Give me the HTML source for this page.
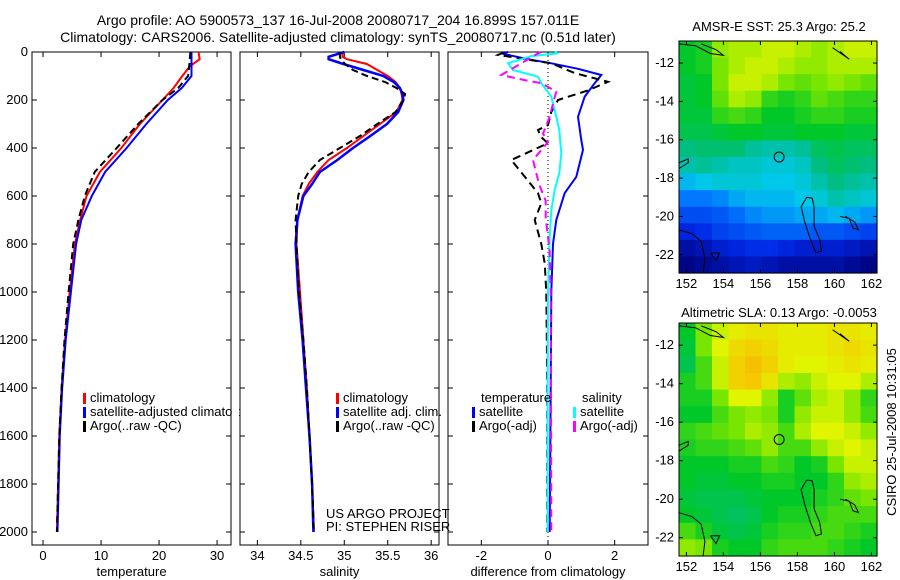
<!DOCTYPE html>
<html><head><meta charset="utf-8"><style>
body{margin:0;background:#fff}
svg{display:block;font-family:"Liberation Sans",sans-serif;font-size:13px}
</style></head><body>
<svg id="fig" width="900" height="580" viewBox="0 0 900 580">
<text x="338" y="25" text-anchor="middle" font-size="14">Argo profile: AO 5900573_137 16-Jul-2008 20080717_204 16.899S 157.011E</text>
<text x="338" y="42" text-anchor="middle" font-size="14">Climatology: CARS2006. Satellite-adjusted climatology: synTS_20080717.nc (0.51d later)</text>
<g id="g"></g>
<text x="779" y="31" text-anchor="middle">AMSR-E SST: 25.3 Argo: 25.2</text>
<text x="779" y="317" text-anchor="middle">Altimetric SLA: 0.13 Argo: -0.0053</text>
<text transform="translate(896,432) rotate(-90)" text-anchor="middle">CSIRO 25-Jul-2008 10:31:05</text>
<text x="326" y="518">US ARGO PROJECT</text>
<text x="326" y="531">PI: STEPHEN RISER</text>
</svg>
<script>
// ---- data ----
const depthClim = [0,30,60,100,150,200,300,400,500,600,700,800,1000,1200,1400,1600,1800,2000];
const tempClim  = [26.8,27,25.3,24,22.5,20.6,16.7,13.5,9.8,7.5,6.4,5.5,4.6,3.8,3.2,2.8,2.6,2.4];
const tempSat   = [25.6,25.6,25.6,25.6,23.9,21.5,17.8,14.4,10.7,8.4,6.6,5.7,4.8,3.9,3.3,2.9,2.7,2.5];
const tempArgo  = [25.4,25.3,25.2,25.0,23.3,20.6,16.4,12.7,8.9,7.2,6.1,5.2,4.4,3.7,3.2,2.8,2.6,2.4];
const depthSal  = [0,20,30,50,75,100,125,150,175,200,250,300,350,400,450,500,550,600,700,800,1000,1200,1400,1600,1800,2000];
const salClim   = [34.98,34.98,35.03,35.26,35.38,35.5,35.59,35.64,35.66,35.67,35.6,35.41,35.22,35.03,34.82,34.69,34.59,34.52,34.46,34.45,34.49,34.53,34.57,34.6,34.63,34.65];
const salSat    = [35.0,34.82,34.82,34.99,35.22,35.45,35.57,35.64,35.67,35.68,35.62,35.49,35.3,35.1,34.92,34.72,34.63,34.53,34.46,34.44,34.47,34.52,34.56,34.6,34.63,34.645];
const salArgo   = [34.95,34.95,34.96,35.01,35.1,35.26,35.47,35.6,35.7,35.68,35.59,35.38,35.18,34.95,34.72,34.59,34.51,34.47,34.44,34.45,34.48,34.53,34.57,34.6,34.63,34.65];
const dTsDepth  = [0,6,30,47,70,96,130,186,270,367,408,520,588,700,800,1000,1400,2000];
const dTsVal    = [-1.2,-1.4,-0.6,0.1,0.9,1.6,1.4,1.1,0.9,1.0,1.05,0.85,0.5,0.25,0.15,0.1,0.08,0.05];
const dTaDepth  = [0,12,47,88,124,160,200,250,304,325,355,380,450,588,630,700,800,880,1000,1400,2000];
const dTaVal    = [-1.3,-1.5,0.1,0.8,1.8,1.2,0.3,0.1,0.0,-0.3,-0.2,0.0,-1.1,-0.3,-0.2,-0.4,-0.2,-0.1,-0.05,-0.02,-0.02];
const dSsDepth  = [0,6,17,47,75,103,130,186,270,325,422,505,575,660,770,1000,1400,2000];
const dSsVal    = [0.2,0.3,-0.5,-1.2,-1.05,-0.3,-0.2,0.1,0.25,0.34,0.4,0.34,0.2,0.1,0.05,0.0,-0.01,-0.01];
const dSaDepth  = [0,6,47,96,117,130,165,215,270,340,375,450,550,620,690,830,1000,1400,2000];
const dSaVal    = [-0.2,-0.3,-0.8,-1.4,-0.7,-0.2,0.25,0.15,0.05,-0.15,0.0,-0.45,-0.27,-0.07,-0.07,0.05,0.08,0.09,0.1];
const depthTicks = [0,200,400,600,800,1000,1200,1400,1600,1800,2000];
const tempTicks = [0,10,20,30];
const salTicks = [34,34.5,35,35.5,36];
const diffTicks = [-2,0,2];
const lonTicks = [152,154,156,158,160,162];
const latTicks = [-12,-14,-16,-18,-20,-22];
const sstGrid = [
[.6,.62,.72,.74,.74,.76,.76,.74,.72,.74,.76,.76],
[.6,.62,.7,.74,.76,.76,.74,.72,.72,.74,.74,.74],
[.58,.6,.7,.76,.76,.74,.7,.68,.7,.72,.7,.68],
[.58,.6,.68,.74,.72,.64,.62,.64,.68,.66,.64,.64],
[.58,.58,.64,.66,.64,.6,.6,.62,.64,.64,.62,.62],
[.56,.56,.58,.6,.6,.58,.58,.6,.6,.6,.58,.58],
[.5,.52,.52,.52,.48,.46,.46,.48,.54,.56,.54,.54],
[.46,.48,.46,.44,.44,.42,.42,.44,.5,.54,.52,.5],
[.38,.4,.42,.42,.42,.4,.4,.42,.46,.5,.48,.46],
[.3,.3,.32,.36,.38,.38,.38,.4,.42,.46,.44,.42],
[.22,.22,.24,.28,.32,.34,.34,.36,.36,.38,.36,.34],
[.14,.16,.2,.22,.24,.26,.26,.26,.24,.24,.22,.2],
[.06,.08,.12,.14,.16,.16,.14,.12,.12,.12,.1,.08],
[.02,.04,.06,.08,.1,.08,.06,.06,.06,.06,.04,.02]];
const slaGrid = [
[.6,.7,.76,.8,.82,.82,.8,.8,.8,.82,.82,.8],
[.58,.7,.78,.84,.86,.84,.8,.8,.8,.82,.84,.82],
[.56,.66,.76,.86,.9,.86,.8,.78,.78,.8,.82,.8],
[.62,.66,.76,.86,.88,.82,.74,.72,.76,.78,.78,.74],
[.62,.62,.7,.78,.78,.72,.62,.68,.74,.76,.72,.64],
[.6,.6,.66,.7,.72,.7,.62,.72,.76,.76,.72,.66],
[.64,.66,.68,.7,.74,.72,.66,.74,.78,.78,.76,.72],
[.62,.64,.64,.66,.68,.72,.66,.66,.72,.76,.78,.76],
[.6,.6,.6,.62,.62,.66,.64,.6,.62,.7,.76,.76],
[.6,.58,.58,.6,.6,.62,.62,.6,.6,.64,.72,.74],
[.58,.56,.56,.56,.58,.6,.6,.6,.62,.64,.68,.7],
[.6,.58,.56,.54,.56,.6,.62,.62,.64,.66,.66,.66],
[.66,.62,.58,.56,.58,.62,.64,.64,.66,.66,.64,.62],
[.72,.7,.62,.6,.6,.64,.66,.66,.66,.64,.62,.6]];
const argoLon = 157.01, argoLat = -16.9;

const NS="http://www.w3.org/2000/svg";
const G=document.getElementById('g');
function mk(tag,attrs,parent){const e=document.createElementNS(NS,tag);for(const k in attrs)e.setAttribute(k,attrs[k]);(parent||G).appendChild(e);return e;}
function lin(d0,d1,r0,r1){return v=>r0+(v-d0)*(r1-r0)/(d1-d0);}
const yD=lin(0,2000,52,532);
const PTOP=52,PBOT=545;

function panel(name,x0,x1,dmin,dmax,ticks,xlabel,showY){
  const xs=lin(dmin,dmax,x0,x1);
  const r=mk('rect',{x:x0,y:PTOP,width:x1-x0,height:PBOT-PTOP,fill:'#fff',stroke:'#000','stroke-width':1});
  
  
  ticks.forEach(t=>{const x=xs(t);
    mk('line',{x1:x,x2:x,y1:PBOT,y2:PBOT-5,stroke:'#000'});
    mk('line',{x1:x,x2:x,y1:PTOP,y2:PTOP+5,stroke:'#000'});
    const tx=mk('text',{x:x,y:PBOT+15,'text-anchor':'middle'});tx.textContent=t;
    
    });
  depthTicks.forEach(t=>{const y=yD(t);
    mk('line',{x1:x0,x2:x0+5,y1:y,y2:y,stroke:'#000'});
    mk('line',{x1:x1,x2:x1-5,y1:y,y2:y,stroke:'#000'});
    if(showY){const tx=mk('text',{x:x0-4,y:y+4,'text-anchor':'end'});tx.textContent=t;
      
      }});
  const lb=mk('text',{x:(x0+x1)/2,y:PBOT+31,'text-anchor':'middle'});lb.textContent=xlabel;
  
  
  return xs;
}
function series(xs,depths,vals,color,dash,w,name){
  const pts=depths.map((d,i)=>xs(vals[i]).toFixed(1)+','+yD(d).toFixed(1)).join(' ');
  const p=mk('polyline',{points:pts,fill:'none',stroke:color,'stroke-width':w,'stroke-dasharray':dash||'none'});
  
  
}
function legend(x,y,color,text,name){
  mk('rect',{x:x,y:y-9,width:3,height:11,fill:color});
  const t=mk('text',{x:x+7,y:y});t.textContent=text;
  
  
}

const xT=panel('temperature',32,231,-1.9,32.4,tempTicks,'temperature',true);
series(xT,depthClim,tempClim,'#f00','',2,'temp-climatology-line');
series(xT,depthClim,tempSat,'#00f','',2,'temp-satellite-line');
series(xT,depthClim,tempArgo,'#000','7,4',2,'temp-argo-line');
legend(83,402,'#f00','climatology','temp-legend-climatology');
legend(83,416,'#00f','satellite-adjusted climatology','temp-legend-satellite');
legend(83,430,'#000','Argo(..raw -QC)','temp-legend-argo');
mk('rect',{x:232,y:395,width:7,height:40,fill:'#fff'});
mk('line',{x1:231,x2:231,y1:395,y2:435,stroke:'#000'});

const xS=panel('salinity',240,439,33.8,36.09,salTicks,'salinity',false);
series(xS,depthSal,salClim,'#f00','',2,'sal-climatology-line');
series(xS,depthSal,salSat,'#00f','',2.5,'sal-satellite-line');
series(xS,depthSal,salArgo,'#000','7,4',2,'sal-argo-line');
legend(336,402,'#f00','climatology','sal-legend-climatology');
legend(336,416,'#00f','satellite adj. clim.','sal-legend-satellite');
legend(336,430,'#000','Argo(..raw -QC)','sal-legend-argo');

const xD=panel('difference',448,648,-3,3,diffTicks,'difference from climatology',false);
mk('line',{x1:xD(0),x2:xD(0),y1:PTOP,y2:PBOT,stroke:'#000','stroke-dasharray':'1,3'});
series(xD,dTsDepth,dTsVal,'#00f','',2,'diff-temp-satellite-line');
series(xD,dTaDepth,dTaVal,'#000','8,5',2,'diff-temp-argo-line');
series(xD,dSsDepth,dSsVal,'#0ff','',2,'diff-sal-satellite-line');
series(xD,dSaDepth,dSaVal,'#f0f','8,5',2,'diff-sal-argo-line');
{const t=mk('text',{x:481,y:402});t.textContent='temperature';}
{const t=mk('text',{x:582,y:402});t.textContent='salinity';}
legend(472,416,'#00f','satellite','diff-legend-temp-satellite');
legend(472,430,'#000','Argo(-adj)','diff-legend-temp-argo');
legend(573,416,'#0ff','satellite','diff-legend-sal-satellite');
legend(573,430,'#f0f','Argo(-adj)','diff-legend-sal-argo');

// ---- maps ----
const stops=[[0,[0,0,120]],[0.15,[0,40,230]],[0.3,[0,120,255]],[0.4,[0,200,235]],[0.5,[0,190,130]],[0.6,[0,200,40]],[0.7,[120,230,0]],[0.78,[225,245,0]],[0.88,[245,200,0]],[1,[245,150,0]]];
function cmap(v){for(let i=1;i<stops.length;i++){if(v<=stops[i][0]){const a=stops[i-1],b=stops[i],f=(v-a[0])/(b[0]-a[0]);
  return 'rgb('+a[1].map((c,k)=>Math.round(c+(b[1][k]-c)*f)).join(',')+')';}}return 'rgb(245,150,0)';}
const coasts=[
 [[158.5,-19],[158.8,-19.05],[158.9,-19.5],[158.9,-20.5],[159.2,-21.2],[159.3,-21.8],[159.0,-21.9],[158.7,-21.2],[158.4,-20.3],[158.2,-19.5],[158.5,-19]],
 [[151.6,-20.7],[152.3,-20.9],[152.8,-21.3],[153.0,-22.2],[152.9,-22.95]],
 [[160.3,-20.0],[160.8,-20.1],[161.0,-20.6],[161.3,-20.7],[161.1,-20.3],[160.6,-20.0]],
 [[153.3,-21.9],[153.8,-21.9],[153.6,-22.3],[153.3,-21.9]],
 [[151.6,-17.5],[152.1,-17.2],[152.1,-17.0],[151.6,-17.2]],
 [[151.6,-11.0],[152.5,-11.1],[153.3,-11.5],[154.0,-11.6],[153.6,-11.3],[152.8,-11.0]],
 [[159.9,-11.2],[160.5,-11.6],[160.8,-11.8],[160.3,-11.4]]];
function map(name,x0,x1,y0,y1,grid){
  const xs=lin(151.6,162.3,x0,x1), ys=lin(-10.85,-22.95,y0,y1);
  const nr=grid.length,nc=grid[0].length,dl=(162.3-151.6)/nc,dt=(22.95-10.85)/nr;
  grid.forEach((row,i)=>row.forEach((v,j)=>{
    const xa=xs(151.6+j*dl),xb=xs(151.6+(j+1)*dl),ya=ys(-10.85-i*dt),yb=ys(-10.85-(i+1)*dt);
    const c=mk('rect',{x:xa,y:ya,width:xb-xa+0.6,height:yb-ya+0.6,fill:cmap(v)});
    
    
  }));
  coasts.forEach(cs=>mk('polyline',{points:cs.map(p=>xs(p[0])+','+ys(p[1])).join(' '),fill:'none',stroke:'#000','stroke-width':1}));
  const m=mk('circle',{cx:xs(argoLon),cy:ys(argoLat),r:5,fill:'none',stroke:'#000'});
  
  
  const b=mk('rect',{x:x0,y:y0,width:x1-x0,height:y1-y0,fill:'none',stroke:'#000'});
  
  
  lonTicks.forEach(t=>{const x=xs(t);mk('line',{x1:x,x2:x,y1:y1,y2:y1-4,stroke:'#000'});mk('line',{x1:x,x2:x,y1:y0,y2:y0+4,stroke:'#000'});
    const tx=mk('text',{x:x,y:y1+15,'text-anchor':'middle'});tx.textContent=t;
    
    });
  latTicks.forEach(t=>{const y=ys(t);mk('line',{x1:x0,x2:x0+4,y1:y,y2:y,stroke:'#000'});mk('line',{x1:x1,x2:x1-4,y1:y,y2:y,stroke:'#000'});
    const tx=mk('text',{x:x0-5,y:y+4,'text-anchor':'end'});tx.textContent=t;
    
    });
}
map('sst-map',679,877,41,273,sstGrid);
map('sla-map',679,877,323,556,slaGrid);
</script>
</body></html>
